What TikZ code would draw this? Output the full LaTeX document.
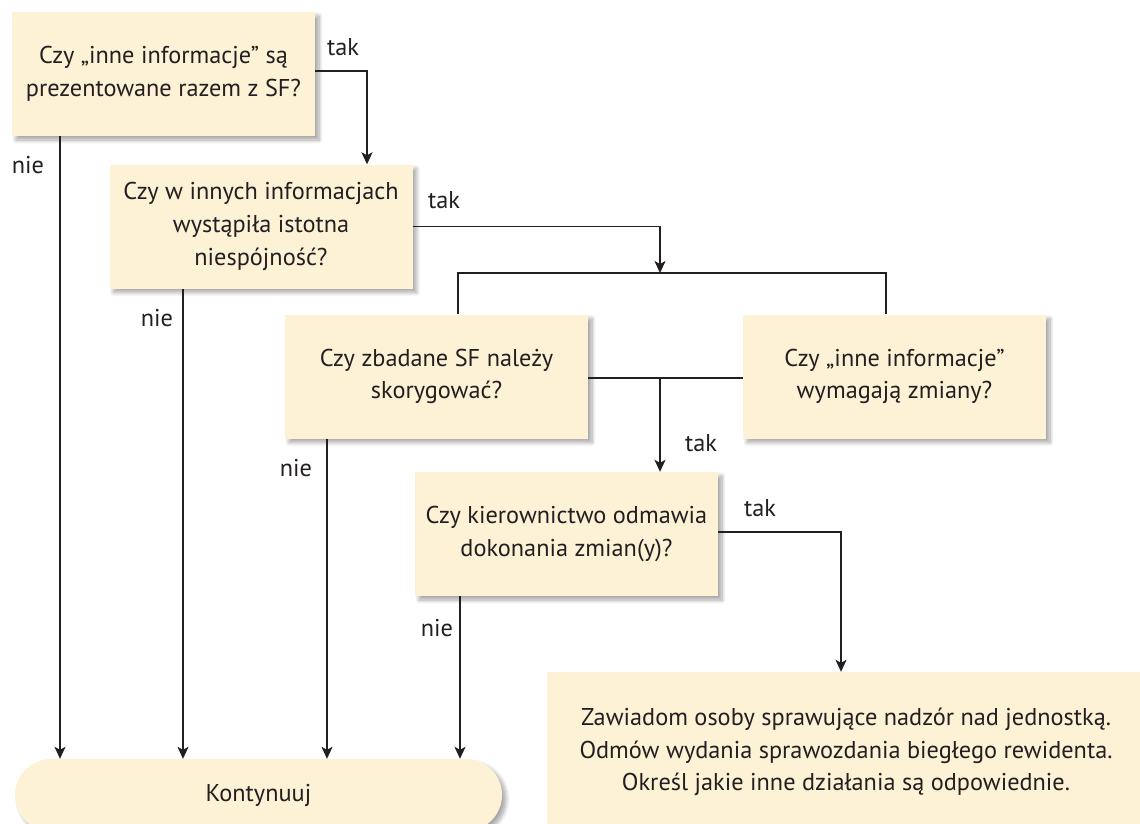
\documentclass[tikz,border=0pt]{standalone}
\usepackage{fontspec}
\setmainfont{PT Sans}
\usetikzlibrary{arrows.meta,shadows.blur,calc}
\definecolor{boxfill}{HTML}{FDF2D6}
\definecolor{ink}{HTML}{231F20}
\begin{document}
\begin{tikzpicture}[x=1pt,y=-1pt,
  font=\fontsize{24.3}{32.8}\selectfont, text=ink,
  qbox/.style={fill=boxfill, draw=none, align=center, inner sep=0pt,
    minimum width=303pt, minimum height=124pt,
    blur shadow={shadow xshift=4pt, shadow yshift=-4pt, shadow blur steps=8,
      shadow blur radius=4pt, shadow opacity=35}},
  link/.style={draw=ink, line width=1.5pt},
  arr/.style={link, -{Stealth[length=12pt,width=11pt,inset=3pt]}},
  lbl/.style={inner sep=0pt}]
\useasboundingbox (0,0) rectangle (1140,823);

% decision boxes
\node[qbox] (b1) at (163.5,74) {Czy „inne informacje” są\\prezentowane razem z SF?};
\node[qbox] (b2) at (261,226.5) {Czy w innych informacjach\\wystąpiła istotna\\niespójność?};
\node[qbox] (b3) at (436.5,376.5) {Czy zbadane SF należy\\skorygować?};
\node[qbox] (b4) at (894.5,376.5) {Czy „inne informacje”\\wymagają zmiany?};
\node[qbox] (b5) at (566.5,534) {Czy kierownictwo odmawia\\dokonania zmian(y)?};
\node[qbox, minimum width=598pt, minimum height=160pt] (b6) at (846,752)
  {Zawiadom osoby sprawujące nadzór nad jednostką.\\Odmów wydania sprawozdania biegłego rewidenta.\\Określ jakie inne działania są odpowiednie.};
\node[qbox, minimum width=487pt, minimum height=72pt, rounded corners=36pt] (k) at (258.5,795) {Kontynuuj};

% routing points
\coordinate (t1) at (367,71);
\coordinate (j1) at (660,273);
\coordinate (l3) at (458,273);
\coordinate (l4) at (886,273);
\coordinate (j2) at (660,378);
\coordinate (t5) at (841,532);
\coordinate (n1) at (60,0);
\coordinate (n2) at (183,0);
\coordinate (n3) at (327,0);
\coordinate (n4) at (460,0);

% "tak" branches
\draw[arr] (b1.east |- t1) -| (b2.north -| t1);
\draw[arr] (b2.east) -| (j1);
\draw[link] (b3.north -| l3) -- (l3) -- (l4) -- (b4.north -| l4);
\draw[link] (b3.east |- j2) -- (b4.west |- j2);
\draw[arr] (j2) -- (b5.north -| j2);
\draw[arr] (b5.east |- t5) -| (b6.north -| t5);

% "nie" branches
\draw[arr] (b1.south -| n1) -- (k.north -| n1);
\draw[arr] (b2.south -| n2) -- (k.north -| n2);
\draw[arr] (b3.south -| n3) -- (k.north -| n3);
\draw[arr] (b5.south -| n4) -- (k.north -| n4);

% branch labels
\node[lbl] (tk1) at (343,47) {tak};
\node[lbl] (tk2) at (444,200) {tak};
\node[lbl] (tk3) at (701,443) {tak};
\node[lbl] (tk4) at (760,508) {tak};
\node[lbl] (ne1) at (28,165) {nie};
\node[lbl] (ne2) at (157,318) {nie};
\node[lbl] (ne3) at (296,468) {nie};
\node[lbl] (ne4) at (437,628) {nie};
\end{tikzpicture}
\end{document}
